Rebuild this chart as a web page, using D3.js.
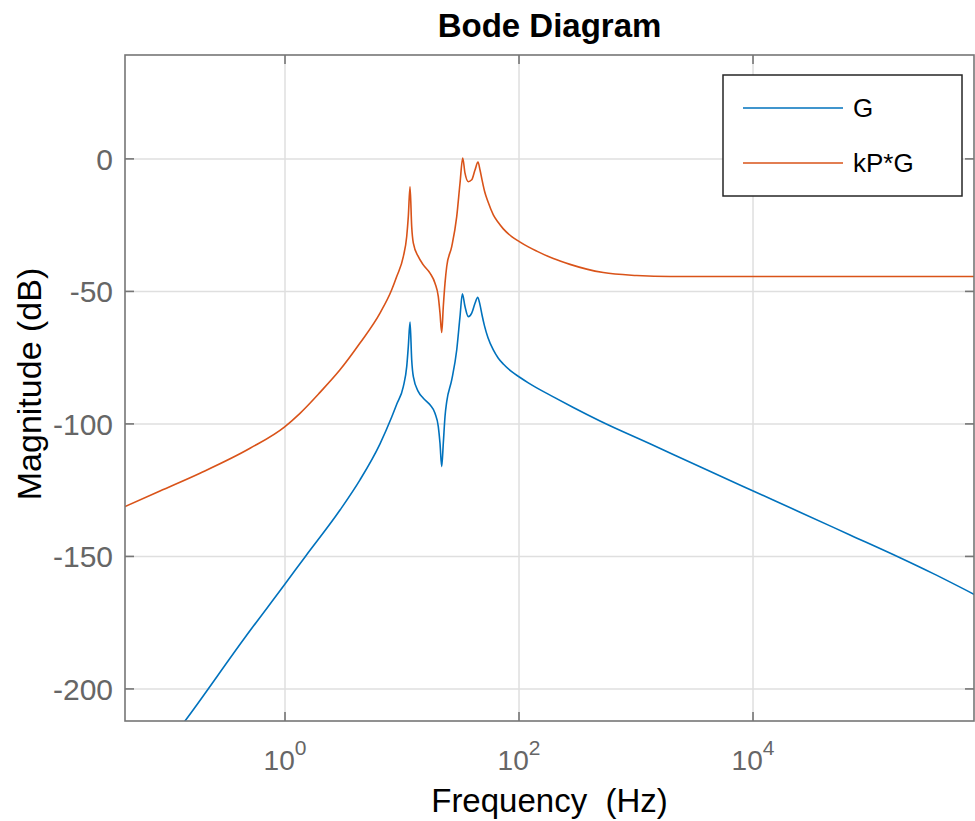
<!DOCTYPE html>
<html>
<head>
<meta charset="utf-8">
<script src="https://cdn.jsdelivr.net/npm/d3@7/dist/d3.min.js"></script>
<style>
  html, body { margin: 0; padding: 0; background: #fff; }
  svg { display: block; font-family: "Liberation Sans", Arial, Helvetica, sans-serif; }
  text { white-space: pre; }
</style>
</head>
<body>
<svg id="chart" width="975" height="821"></svg>
<script>
// ---- data ----
const seriesNames = ["G", "kP*G"];
const seriesColors = ["#0072BD", "#D95319"];

const freqG = [0.104, 0.1397, 0.455, 1, 1.483, 2.952, 4.375, 6.486, 8.166, 9.01, 10.26, 10.97, 11.32, 11.71,
  12.10, 12.50, 13.79, 15.21, 17.35, 19.14, 20.43, 21.12, 21.84, 22.54, 23.31, 24.11, 26.60, 29.35, 31.31,
  32.8, 34.55, 36.86, 39.42, 42.06, 44.4, 46.42, 48.3, 50.7, 54.33, 60.31, 66.55, 73.43, 86.6, 100.6, 120.1,
  141.7, 196.5, 291.1, 492.5, 1317, 3524, 10260, 25220, 67460, 180500, 347500, 789600];
const magG = [-219.6, -212.1, -180.6, -160.4, -150.2, -132.5, -121.1, -107.5, -97.4, -92.6, -85.9, -78.4, -70.8, -61.6,
  -75.8, -82.2, -87.8, -90.3, -92.8, -96.0, -101.0, -107.3, -116.1, -107.3, -97.2, -91.6, -83.4, -72.1, -59.5,
  -50.9, -55.7, -59.5, -58.2, -54.5, -52.2, -55.1, -58.9, -63.0, -67.5, -72.1, -75.2, -77.4, -80.3, -82.3, -84.5,
  -86.4, -89.8, -93.8, -98.9, -107.5, -116.2, -125.5, -133.3, -141.9, -150.5, -156.5, -164.5];

const freqKPG = [0.0429, 0.0854, 0.1877, 0.5024, 1, 1.343, 1.991, 2.952, 4.375, 6.486, 8.166, 9.01, 10.26, 10.97,
  11.32, 11.71, 12.10, 12.50, 13.79, 15.21, 17.35, 19.14, 20.43, 21.12, 21.84, 22.54, 23.31, 24.11, 26.60,
  29.35, 31.31, 33.02, 34.55, 36.86, 39.42, 42.06, 44.63, 46.42, 48.3, 50.7, 54.33, 60.31, 66.55, 73.43, 86.6,
  100.6, 120.1, 141.7, 196.5, 272.9, 378.9, 525.5, 1014, 1953, 790000];
const magKPG = [-131.2, -125.3, -118.6, -109.2, -101.0, -96.0, -88.1, -79.6, -69.5, -58.2, -49.4, -44.4, -36.9, -29.3,
  -21.8, -10.5, -25.5, -31.8, -36.9, -40.0, -43.1, -46.9, -52.0, -58.2, -65.5, -55.7, -46.9, -40.6, -33.1,
  -21.8, -9.2, 0.3, -5.4, -8.6, -7.9, -4.2, -1.2, -4.2, -7.9, -12.1, -16.2, -21.1, -24.0, -26.4, -29.3,
  -31.2, -33.2, -34.8, -37.6, -39.8, -41.6, -42.9, -44.0, -44.4, -44.4];

const yTickValues = [0, -50, -100, -150, -200];
const yTickLabels = ["0", "-50", "-100", "-150", "-200"];
const xTickExponents = [0, 2, 4];
const freqDomain = [0.0429, 7.74e5];
const magDomain = [-212.1, 39.2];

const titleText = "Bode Diagram";
const xLabelText = "Frequency  (Hz)";
const yLabelText = "Magnitude (dB)";

// ---- layout ----
const pL = 125, pR = 974, pT = 55, pB = 721;
const svg = d3.select("#chart");

const x = d3.scaleLog().domain(freqDomain).range([pL, pR]);
const y = d3.scaleLinear().domain(magDomain).range([pB, pT]);
const xTickValues = xTickExponents.map(e => Math.pow(10, e));

const gridColor = "#dfdfdf";
const axisColor = "#767676";
const tickTextColor = "#666666";

// grid
const grid = svg.append("g");
grid.selectAll("line.gx").data(xTickValues).join("line")
  .attr("x1", d => x(d)).attr("x2", d => x(d))
  .attr("y1", pT).attr("y2", pB)
  .attr("stroke", gridColor).attr("stroke-width", 1.5);
grid.selectAll("line.gy").data(yTickValues).join("line")
  .attr("y1", d => y(d)).attr("y2", d => y(d))
  .attr("x1", pL).attr("x2", pR)
  .attr("stroke", gridColor).attr("stroke-width", 1.5);

// clip
svg.append("clipPath").attr("id", "plotclip").append("rect")
  .attr("x", pL).attr("y", pT).attr("width", pR - pL).attr("height", pB - pT);

// lines
const line = d3.line().x(d => x(d[0])).y(d => y(d[1])).curve(d3.curveMonotoneX);
const seriesData = [
  d3.zip(freqG, magG),
  d3.zip(freqKPG, magKPG)
];
const lines = svg.append("g").attr("clip-path", "url(#plotclip)");
seriesData.forEach((s, i) => {
  lines.append("path").datum(s)
    .attr("d", line)
    .attr("fill", "none")
    .attr("stroke", seriesColors[i])
    .attr("stroke-width", 1.6)
    .attr("stroke-linejoin", "round");
});

// axes: box with inward ticks on all sides
const tickLen = 9;
const axes = svg.append("g").attr("stroke", axisColor).attr("stroke-width", 1.6);
axes.append("rect").attr("x", pL).attr("y", pT)
  .attr("width", pR - pL).attr("height", pB - pT)
  .attr("fill", "none");
xTickValues.forEach(v => {
  axes.append("line").attr("x1", x(v)).attr("x2", x(v)).attr("y1", pB).attr("y2", pB - tickLen);
  axes.append("line").attr("x1", x(v)).attr("x2", x(v)).attr("y1", pT).attr("y2", pT + tickLen);
});
yTickValues.forEach(v => {
  axes.append("line").attr("y1", y(v)).attr("y2", y(v)).attr("x1", pL).attr("x2", pL + tickLen);
  axes.append("line").attr("y1", y(v)).attr("y2", y(v)).attr("x1", pR).attr("x2", pR - tickLen);
});

// y tick labels
svg.append("g").selectAll("text").data(yTickValues).join("text")
  .attr("x", pL - 12)
  .attr("y", d => y(d))
  .attr("dy", "0.36em")
  .attr("text-anchor", "end")
  .attr("font-size", 30)
  .attr("fill", tickTextColor)
  .text((d, i) => yTickLabels[i]);

// x tick labels (10^n)
const xt = svg.append("g").selectAll("text").data(xTickExponents).join("text")
  .attr("x", d => x(Math.pow(10, d)))
  .attr("y", 770)
  .attr("text-anchor", "middle")
  .attr("font-size", 28)
  .attr("fill", tickTextColor);
xt.append("tspan").text("10");
xt.append("tspan").attr("dy", -15).attr("font-size", 21).text(d => String(d));

// axis labels
svg.append("text")
  .attr("x", (pL + pR) / 2)
  .attr("y", 812)
  .attr("text-anchor", "middle")
  .attr("font-size", 33)
  .attr("fill", "#000")
  .text(xLabelText);

svg.append("text")
  .attr("transform", `translate(41, ${(pT + pB) / 2 - 4}) rotate(-90)`)
  .attr("text-anchor", "middle")
  .attr("font-size", 34)
  .attr("fill", "#000")
  .text(yLabelText);

// title
svg.append("text")
  .attr("x", (pL + pR) / 2)
  .attr("y", 37)
  .attr("text-anchor", "middle")
  .attr("font-size", 33)
  .attr("font-weight", "bold")
  .attr("fill", "#000")
  .text(titleText);

// legend
const lg = svg.append("g");
lg.append("rect").attr("x", 723).attr("y", 75).attr("width", 239).attr("height", 121)
  .attr("fill", "#fff").attr("stroke", "#262626").attr("stroke-width", 1.5);
seriesNames.forEach((name, i) => {
  const ly = 108 + i * 55;
  lg.append("line").attr("x1", 743).attr("x2", 843).attr("y1", ly).attr("y2", ly)
    .attr("stroke", seriesColors[i]).attr("stroke-width", 1.6);
  lg.append("text").attr("x", 853).attr("y", ly).attr("dy", "0.36em")
    .attr("font-size", 26).attr("fill", "#000").text(name);
});
</script>
</body>
</html>
